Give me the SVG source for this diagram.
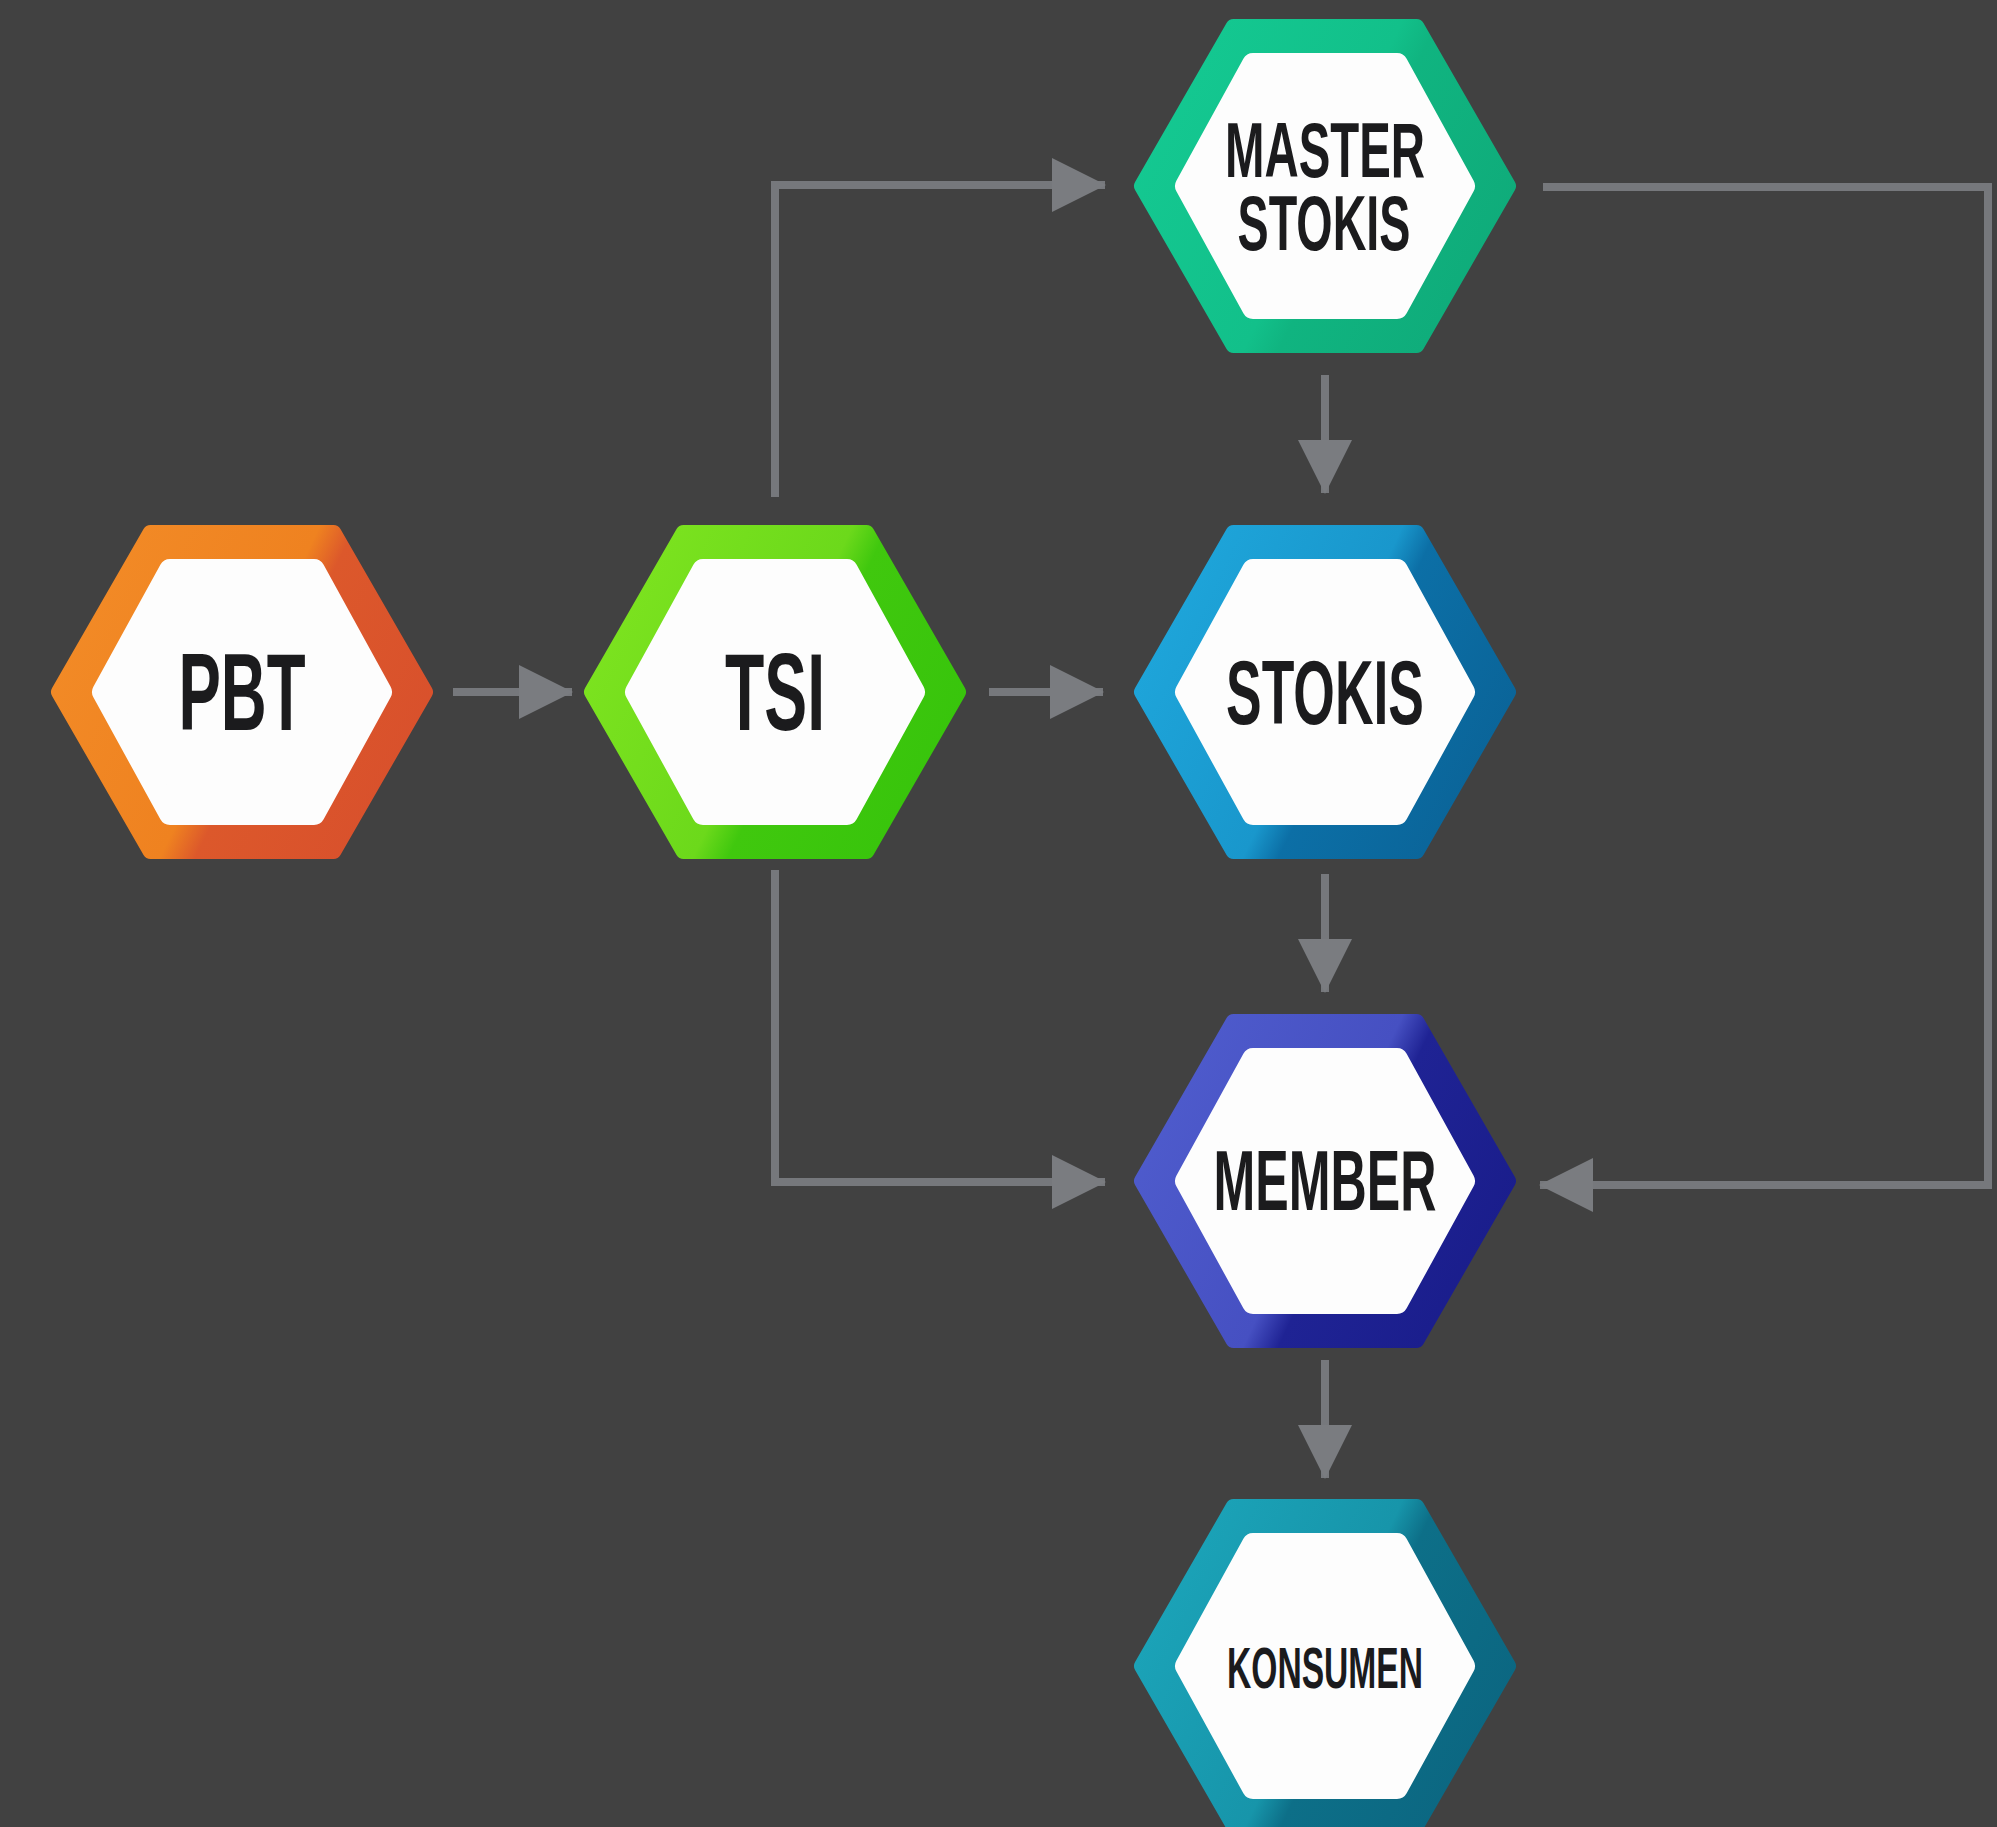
<svg xmlns="http://www.w3.org/2000/svg" width="1997" height="1827" viewBox="0 0 1997 1827">
  <style>
    .outer { stroke-width: 16; stroke-linejoin: round; }
    .inner { fill: #fdfdfd; stroke: #fdfdfd; stroke-width: 22; stroke-linejoin: round; }
    .lbl { font-family: "Liberation Sans", Arial, sans-serif; font-weight: bold; fill: #1b1b1d; text-anchor: middle; }
    .conn { fill: none; stroke: #76787c; stroke-width: 8; stroke-linejoin: miter; }
  </style>
  <defs>
    <polygon id="hexOuter" points="-183,0 -91.5,-159 91.5,-159 183,0 91.5,159 -91.5,159"/>
    <polygon id="hexInner" points="-139,0 -72,-122 72,-122 139,0 72,122 -72,122"/>
    <linearGradient id="gPBT" gradientUnits="userSpaceOnUse" x1="-164.7" y1="-86.8" x2="195.7" y2="86.8">
      <stop offset="0" stop-color="#f28a26"/>
      <stop offset="0.46" stop-color="#ef8220"/>
      <stop offset="0.54" stop-color="#dc582b"/>
      <stop offset="1" stop-color="#d84f2c"/>
    </linearGradient>
    <linearGradient id="gTSI" gradientUnits="userSpaceOnUse" x1="-164.7" y1="-86.8" x2="195.7" y2="86.8">
      <stop offset="0" stop-color="#7ce31f"/>
      <stop offset="0.46" stop-color="#6cd91b"/>
      <stop offset="0.54" stop-color="#40c80e"/>
      <stop offset="1" stop-color="#36c40b"/>
    </linearGradient>
    <linearGradient id="gMS" gradientUnits="userSpaceOnUse" x1="-164.7" y1="-86.8" x2="195.7" y2="86.8">
      <stop offset="0" stop-color="#14c891"/>
      <stop offset="0.46" stop-color="#12c08a"/>
      <stop offset="0.54" stop-color="#10b480"/>
      <stop offset="1" stop-color="#0faa79"/>
    </linearGradient>
    <linearGradient id="gST" gradientUnits="userSpaceOnUse" x1="-164.7" y1="-86.8" x2="195.7" y2="86.8">
      <stop offset="0" stop-color="#1ea5da"/>
      <stop offset="0.46" stop-color="#1997cc"/>
      <stop offset="0.54" stop-color="#0c6fa6"/>
      <stop offset="1" stop-color="#0a6296"/>
    </linearGradient>
    <linearGradient id="gMB" gradientUnits="userSpaceOnUse" x1="-164.7" y1="-86.8" x2="195.7" y2="86.8">
      <stop offset="0" stop-color="#4e5bcc"/>
      <stop offset="0.46" stop-color="#4650c2"/>
      <stop offset="0.54" stop-color="#1f2394"/>
      <stop offset="1" stop-color="#191c8a"/>
    </linearGradient>
    <linearGradient id="gKS" gradientUnits="userSpaceOnUse" x1="-164.7" y1="-86.8" x2="195.7" y2="86.8">
      <stop offset="0" stop-color="#1ba3b8"/>
      <stop offset="0.46" stop-color="#1795aa"/>
      <stop offset="0.54" stop-color="#0d6f88"/>
      <stop offset="1" stop-color="#0b6580"/>
    </linearGradient>
    <marker id="arrow" markerUnits="userSpaceOnUse" viewBox="0 0 54 54" markerWidth="54" markerHeight="54" refX="53" refY="27" orient="auto">
      <polygon points="0,0 54,27 0,54" fill="#7a7c80"/>
    </marker>
  </defs>

  <rect x="0" y="0" width="1997" height="1827" fill="#414141"/>

  <g id="connectors">
    <path class="conn" d="M453,692 H572" marker-end="url(#arrow)"/>
    <path class="conn" d="M989,692 H1103" marker-end="url(#arrow)"/>
    <path class="conn" d="M775,497 V185 H1105" marker-end="url(#arrow)"/>
    <path class="conn" d="M775,870 V1182 H1105" marker-end="url(#arrow)"/>
    <path class="conn" d="M1325,375 V493" marker-end="url(#arrow)"/>
    <path class="conn" d="M1325,874 V992" marker-end="url(#arrow)"/>
    <path class="conn" d="M1325,1360 V1478" marker-end="url(#arrow)"/>
    <path class="conn" d="M1543,187 H1988 V1185 H1540" marker-end="url(#arrow)"/>
  </g>

  <g id="node-pbt" transform="translate(242,692)">
    <use href="#hexOuter" class="outer" fill="url(#gPBT)" stroke="url(#gPBT)"/>
    <use href="#hexInner" class="inner"/>
    <text class="lbl" x="0" y="38" font-size="109" textLength="127" lengthAdjust="spacingAndGlyphs">PBT</text>
  </g>

  <g id="node-tsi" transform="translate(775,692)">
    <use href="#hexOuter" class="outer" fill="url(#gTSI)" stroke="url(#gTSI)"/>
    <use href="#hexInner" class="inner"/>
    <text class="lbl" x="0" y="38" font-size="109" textLength="100" lengthAdjust="spacingAndGlyphs">TSI</text>
  </g>

  <g id="node-master-stokis" transform="translate(1325,186)">
    <use href="#hexOuter" class="outer" fill="url(#gMS)" stroke="url(#gMS)"/>
    <use href="#hexInner" class="inner"/>
    <text class="lbl" x="0" y="-9" font-size="77" textLength="200" lengthAdjust="spacingAndGlyphs">MASTER</text>
    <text class="lbl" x="-1" y="64" font-size="77" textLength="173" lengthAdjust="spacingAndGlyphs">STOKIS</text>
  </g>

  <g id="node-stokis" transform="translate(1325,692)">
    <use href="#hexOuter" class="outer" fill="url(#gST)" stroke="url(#gST)"/>
    <use href="#hexInner" class="inner"/>
    <text class="lbl" x="0" y="32" font-size="91" textLength="198" lengthAdjust="spacingAndGlyphs">STOKIS</text>
  </g>

  <g id="node-member" transform="translate(1325,1181)">
    <use href="#hexOuter" class="outer" fill="url(#gMB)" stroke="url(#gMB)"/>
    <use href="#hexInner" class="inner"/>
    <text class="lbl" x="0" y="29" font-size="85" textLength="223" lengthAdjust="spacingAndGlyphs">MEMBER</text>
  </g>

  <g id="node-konsumen" transform="translate(1325,1666)">
    <use href="#hexOuter" class="outer" fill="url(#gKS)" stroke="url(#gKS)"/>
    <use href="#hexInner" class="inner"/>
    <text class="lbl" x="0" y="22" font-size="57" textLength="196" lengthAdjust="spacingAndGlyphs">KONSUMEN</text>
  </g>
</svg>
